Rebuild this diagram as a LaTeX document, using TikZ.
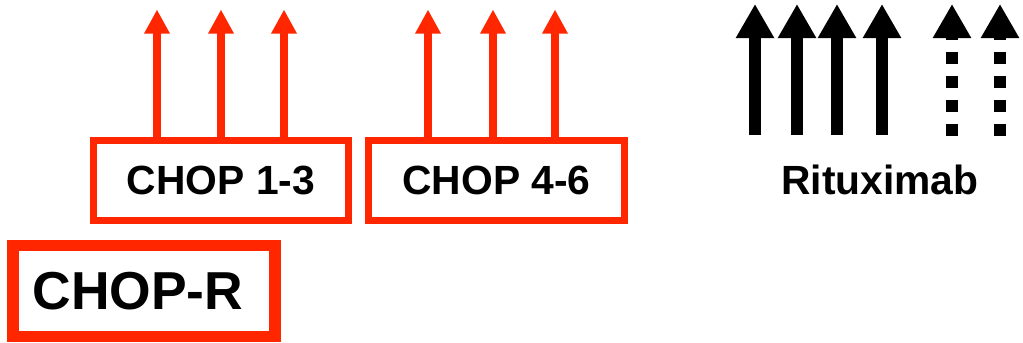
\documentclass[tikz,border=0pt]{standalone}
\usepackage{fontspec}
\setmainfont{Liberation Sans}
\usetikzlibrary{arrows.meta}
\definecolor{rot}{HTML}{FF2600}
\tikzset{
  zyklus/.style={draw=rot,line width=5pt,inner sep=0pt,minimum width=6.375cm,minimum height=2cm,font=\fontsize{29}{34}\selectfont\bfseries},
  basis/.style={draw=rot,line width=8.5pt,inner sep=0pt,minimum width=6.54cm,minimum height=2.275cm,font=\fontsize{38}{44}\selectfont\bfseries},
  pfeilr/.style={-{Triangle[length=0.6cm,width=0.6cm]},rot,line width=5.5pt},
  pfeils/.style={-{Triangle[length=0.85cm,width=0.9cm]},black,line width=8.5pt},
  pfeild/.style={pfeils,dash pattern=on 0.3cm off 0.3cm},
}
\begin{document}
\begin{tikzpicture}[x=0.025cm,y=-0.025cm]
  \useasboundingbox (0,0) rectangle (1023,342);
  \node[basis] (chopr) at (144,291) {CHOP-R\kern0.3cm};
  \node[zyklus] (c13) at (221,180.5) {CHOP 1-3};
  \node[zyklus] (c46) at (496.5,180.5) {CHOP 4-6};
  \node[font=\fontsize{29}{34}\selectfont\bfseries] (ritux) at (880,180) {Rituximab};
  \foreach \x [count=\i] in {157,221,284}{
    \coordinate (a\i) at (\x,9.5);
    \draw[pfeilr] (a\i |- c13.north) -- (a\i);
  }
  \foreach \x [count=\i] in {428,493,555}{
    \coordinate (b\i) at (\x,9.5);
    \draw[pfeilr] (b\i |- c46.north) -- (b\i);
  }
  \foreach \x [count=\i] in {755,797,837,882}{
    \coordinate (r\i) at (\x,135);
    \coordinate (s\i) at (\x,4);
    \draw[pfeils] (r\i) -- (s\i);
  }
  \foreach \x [count=\i] in {952,1000}{
    \coordinate (u\i) at (\x,136);
    \coordinate (v\i) at (\x,4);
    \draw[pfeild] (u\i) -- (v\i);
  }
\end{tikzpicture}
\end{document}
